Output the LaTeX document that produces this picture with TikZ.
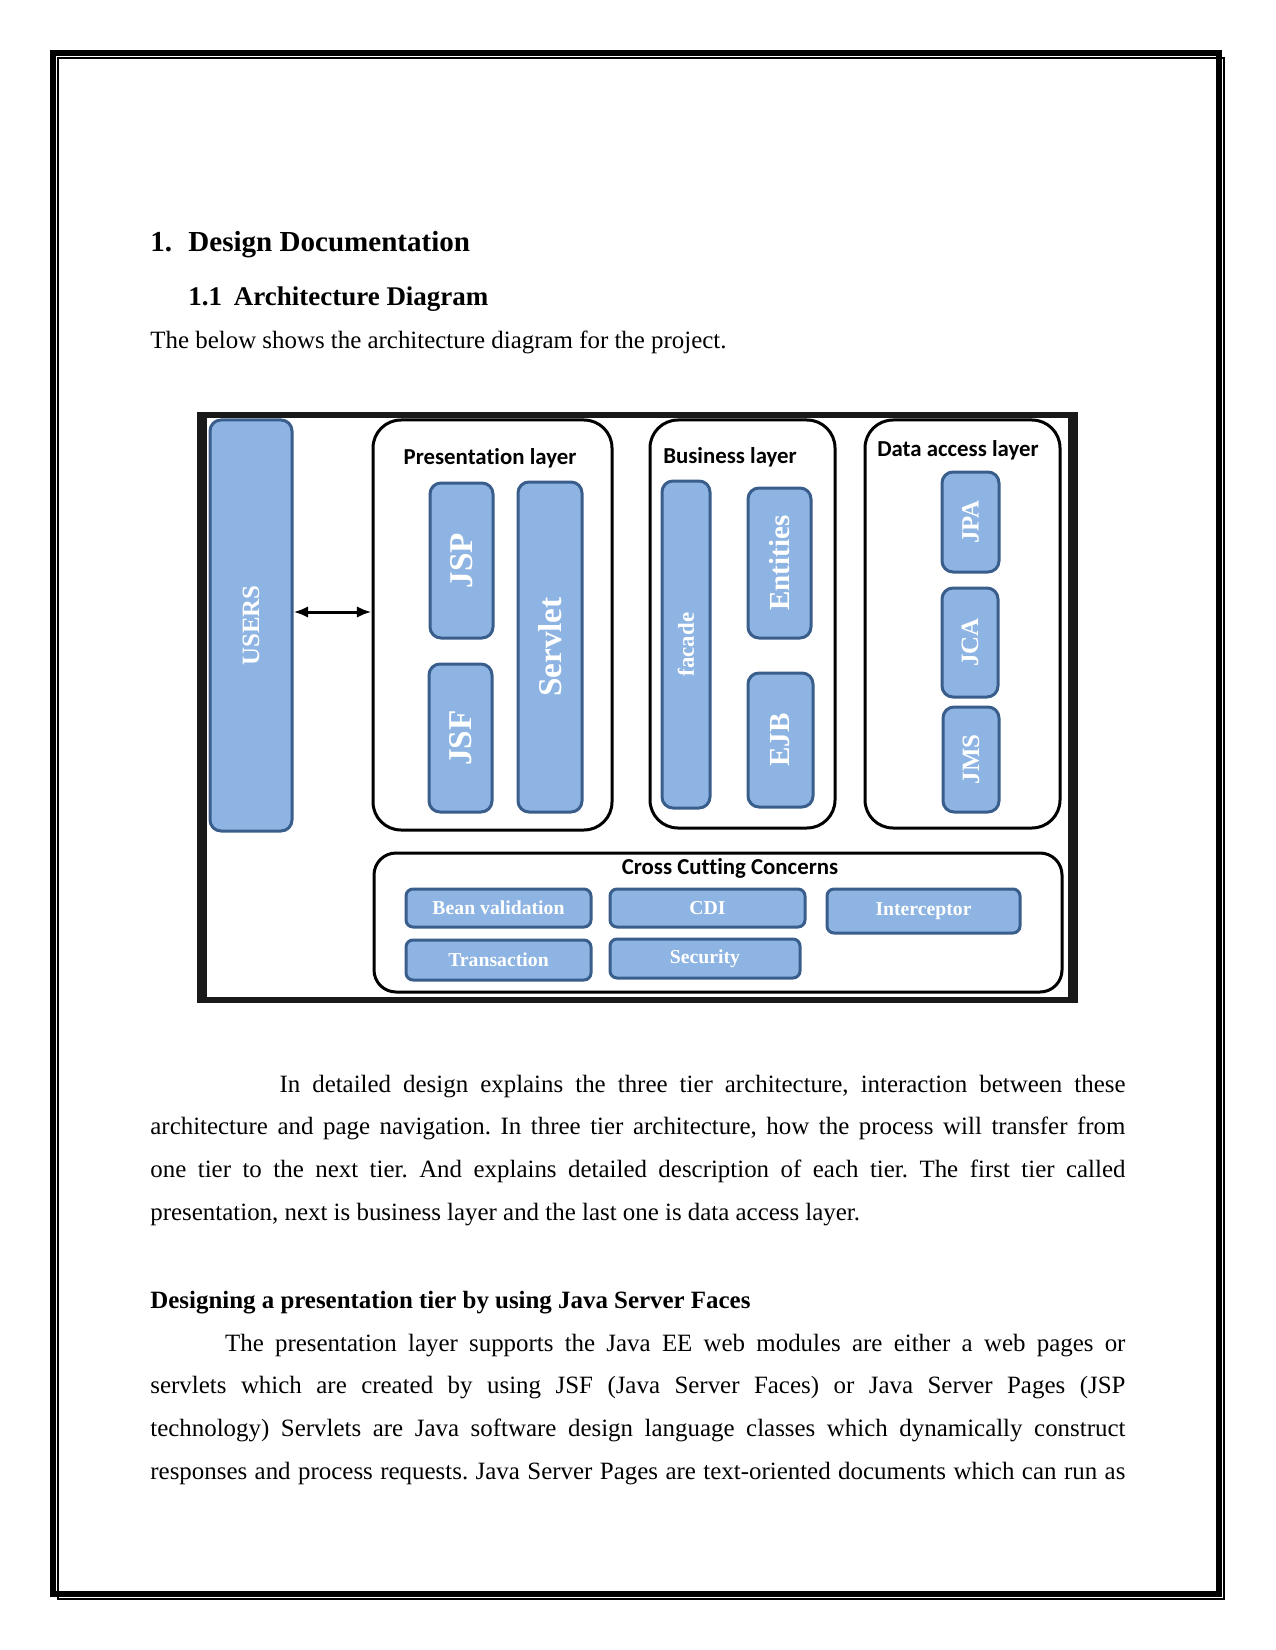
\documentclass[tikz,border=0pt]{standalone}
\usepackage{fontspec}
\setmainfont{Liberation Serif}
\newfontfamily\calibrifont[Ligatures=NoCommon]{Carlito}
\usetikzlibrary{arrows.meta}
\frenchspacing

\definecolor{boxfill}{RGB}{142,180,227}
\definecolor{boxline}{RGB}{58,94,140}
\newcommand{\pxu}{0.4818pt}

\tikzset{
    layerbox/.style={draw=black, line width=3*\pxu, rounded corners=28*\pxu, inner sep=0pt},
    bluebox/.style={draw=boxline, fill=boxfill, line width=3*\pxu, rounded corners=11*\pxu,
        text=white, inner sep=0pt},
    layertitle/.style={font=\calibrifont\bfseries\fontsize{11}{13}\selectfont, inner sep=0pt},
    bodytext/.style={font=\fontsize{12}{20.7}\selectfont, inner sep=0pt, anchor=base west},
    headtext/.style={font=\bfseries\fontsize{#1}{#1}\selectfont, inner sep=0pt, anchor=base west},
}

\begin{document}
\begin{tikzpicture}[x=0.4818pt, y=-0.4818pt]
    \useasboundingbox (0,0) rectangle (1275,1650);
    \begin{scope} % Page border
        \draw[line width=6*\pxu] (53,53) rectangle (1219,1594);
        \draw[line width=2*\pxu] (58,58) rectangle (1224,1599);
    \end{scope}
    \begin{scope} % Headings
        \node[headtext=14] (secnum) at (150,252) {1.};
        \node[headtext=14] (sectitle) at (188,252) {Design Documentation};
        \node[headtext=13] (subnum) at (188,306) {1.1};
        \node[headtext=13] (subtitle) at (233.5,306) {Architecture Diagram};
        \node[bodytext] (intro) at (150,349)
            {The below shows the architecture diagram for the project.};
    \end{scope}
    \begin{scope} % Diagram frame
        \fill[black!90] (197,412) rectangle (1078,1003);
        \fill[white] (207,418) rectangle (1068,997);
    \end{scope}
    \begin{scope} % Layers
        \node[layerbox, minimum width=239*\pxu, minimum height=410*\pxu] (pres) at (492.5,625) {};
        \node[layerbox, minimum width=185*\pxu, minimum height=408*\pxu] (bus) at (742.5,624) {};
        \node[layerbox, minimum width=195*\pxu, minimum height=408*\pxu] (dal) at (962.5,624) {};
        \node[layerbox, rounded corners=22*\pxu, minimum width=688*\pxu,
            minimum height=139*\pxu] (cross) at (718,922.5) {};
        \node[layertitle] (prestitle) at (490,458) {Presentation layer};
        \node[layertitle] (bustitle) at (730,457) {Business layer};
        \node[layertitle] (daltitle) at (958,450) {Data access layer};
        \node[layertitle] (crosstitle) at (730,868) {Cross Cutting Concerns};
    \end{scope}
    \begin{scope} % Components
        \foreach \nm/\x/\y/\w/\h/\fs/\txt in {
                users/251/625.5/82/411/12/USERS,
                jsp/461.5/560.5/63/155/16/JSP,
                jsf/460.5/738/63/148/16/JSF,
                servlet/550/647/64/330/16/Servlet,
                facade/686/644.5/48/327/11/facade,
                entities/779.5/563/63/150/14/Entities,
                ejb/780.5/740/65/134/14/EJB,
                jpa/970.5/522/57/100/12/JPA,
                jca/970/642.5/56/109/12/JCA,
                jms/971/759.5/56/105/12/JMS}
            \node[bluebox, minimum width=\w*\pxu, minimum height=\h*\pxu,
                font=\bfseries\fontsize{\fs}{\fs}\selectfont] (\nm) at (\x,\y)
                {\rotatebox{90}{\txt}};
        \foreach \nm/\x/\y/\w/\h/\txt in {
                beanval/498.5/908/185/38/Bean validation,
                cdi/707.5/908/195/38/CDI,
                intercept/923.5/911/193/44/Interceptor,
                transact/498.5/960/185/40/Transaction,
                security/705/958.5/190/39/Security}
            \node[bluebox, rounded corners=7*\pxu, minimum width=\w*\pxu, minimum height=\h*\pxu,
                font=\bfseries\fontsize{9.5}{9.5}\selectfont] (\nm) at (\x,\y) {\txt};
    \end{scope}
    \draw[<->, >={Latex[length=7pt,width=5.5pt]}, line width=3*\pxu]
        ([yshift=13.5*\pxu]users.east) -- ([yshift=13*\pxu]pres.west);
    \begin{scope} % Text below the diagram
        \node[bodytext, text width=6.5in, align=justify] (para1) at (150,1092)
            {\hspace*{62.2pt}In detailed design explains the three tier architecture, interaction between these\linebreak
            architecture and page navigation. In three tier architecture, how the process will transfer from\linebreak
            one tier to the next tier. And explains detailed description of each tier. The first tier called\linebreak
            presentation, next is business layer and the last one is data access layer.};
        \node[headtext=12] (tierhead) at (150,1308)
            {Designing a presentation tier by using Java Server Faces};
        \node[bodytext, text width=6.5in, align=justify] (para2) at (150,1351)
            {\hspace*{36pt}The presentation layer supports the Java EE web modules are either a web pages or\linebreak
            servlets which are created by using JSF (Java Server Faces) or Java Server Pages (JSP\linebreak
            technology) Servlets are Java software design language classes which dynamically construct\linebreak
            responses and process requests. Java Server Pages are text-oriented documents which can run as\parfillskip=0pt\par};
    \end{scope}
\end{tikzpicture}
\end{document}
